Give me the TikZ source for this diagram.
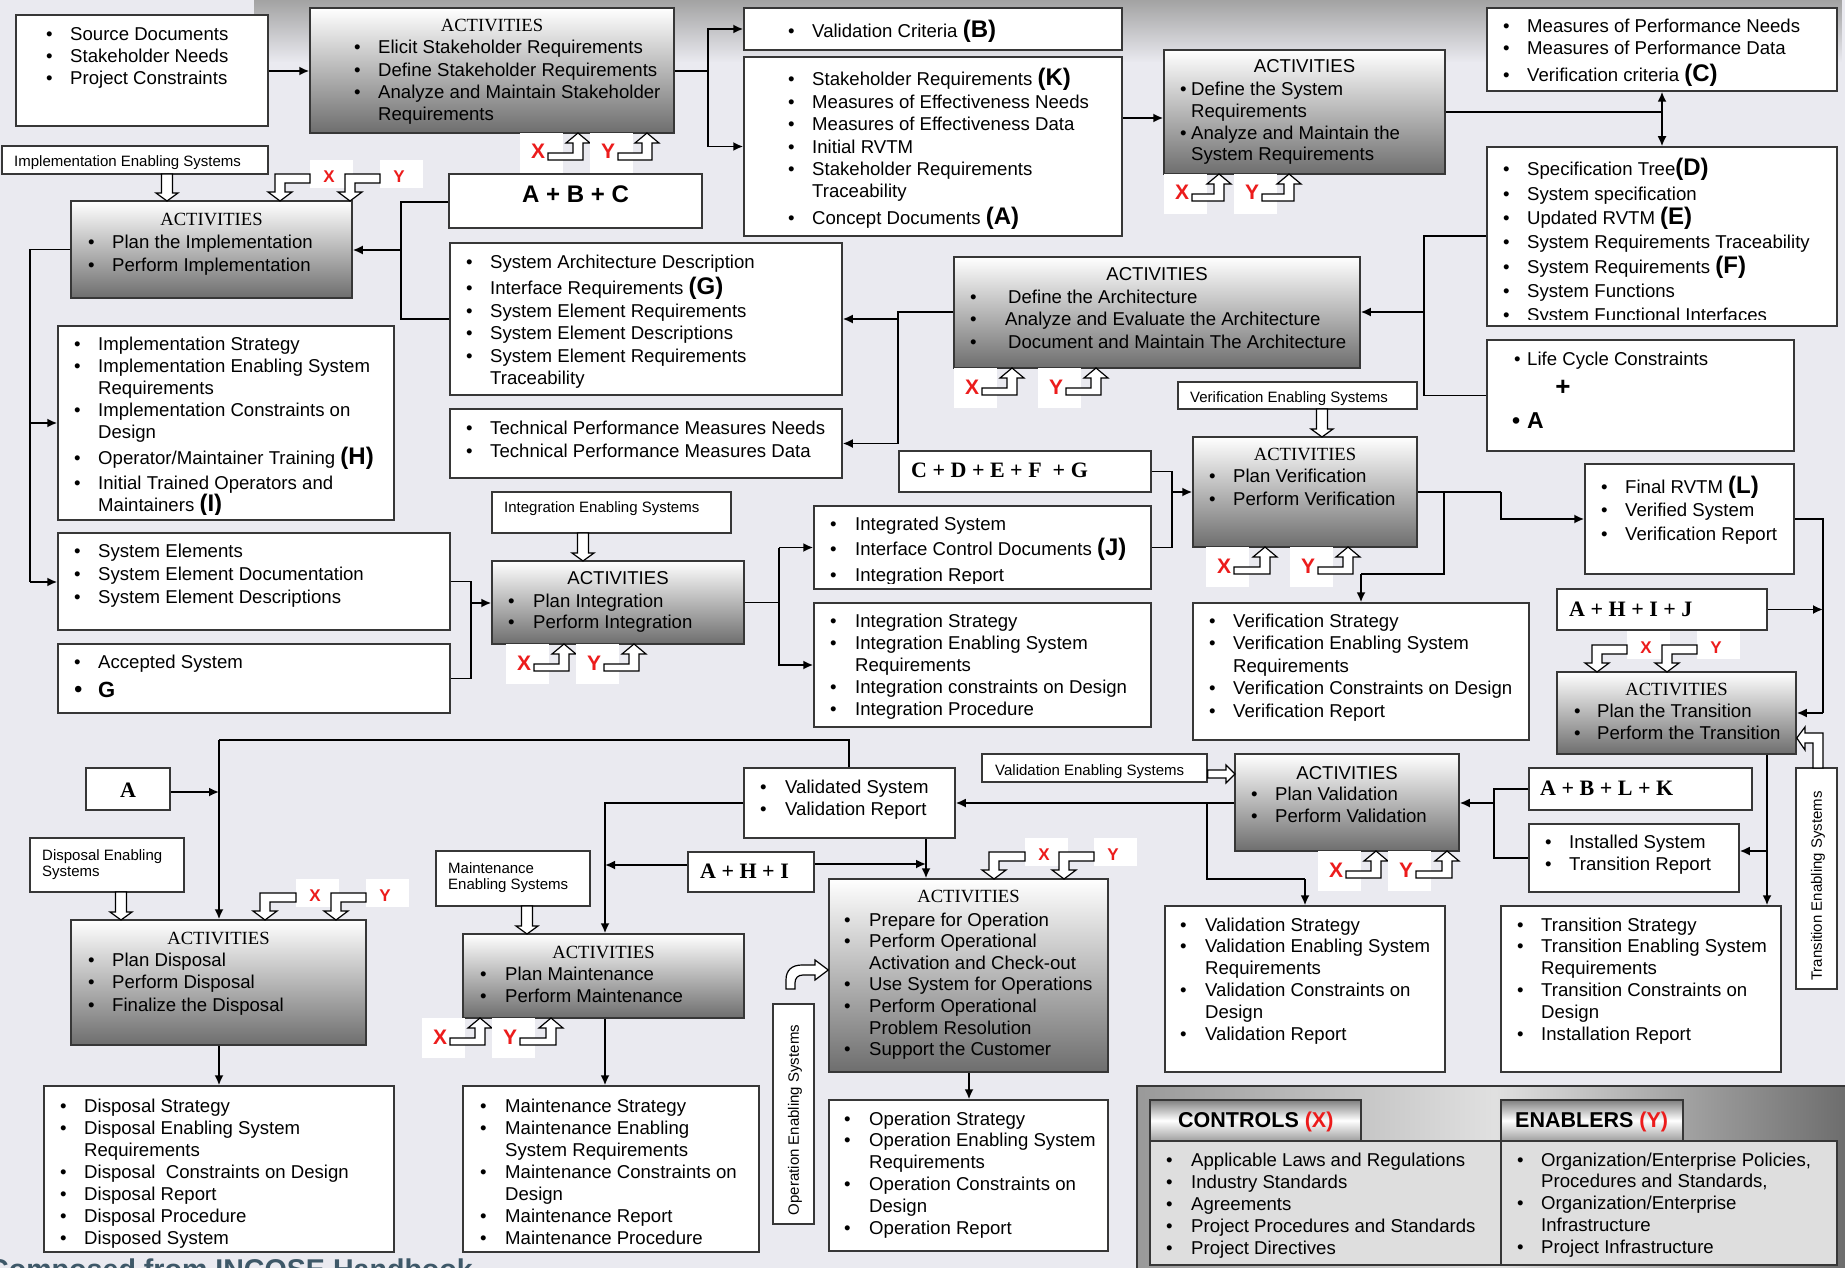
\documentclass[tikz,border=0pt]{standalone}
\usepackage{fontspec}
\setmainfont{Liberation Sans}
\newfontfamily\tms{Liberation Serif}
\usetikzlibrary{arrows.meta,fit,fadings}

\definecolor{bgc}{RGB}{234,234,240}
\definecolor{bord}{RGB}{55,55,55}
\definecolor{xred}{RGB}{236,28,28}
\definecolor{capc}{RGB}{62,88,104}

\tikzfading[name=fadedown, top color=transparent!0, bottom color=transparent!100]

% bulleted lists: \lst{width}{text indent}{line pitch}{items}
\newlength\txtx
\newcommand\itm[1]{\par\noindent\hangindent=\txtx\hangafter=1\hbox to\txtx{\textbullet\hss}#1}
\newcommand\lst[4]{\vtop{\hsize=#1pt\parskip=0pt\parindent=0pt\rightskip=0pt plus 1fil\txtx=#2pt\fontsize{18.6}{#3}\selectfont#4}}
\newcommand\bigb[1]{{\fontsize{24}{24}\selectfont\bfseries#1}}
\newcommand\fsm{\fontsize{15}{16.5}\selectfont}
\newcommand\fbody{\fontsize{18.6}{22}\selectfont}
\newcommand\fplus{\tms\bfseries\fontsize{22}{24}\selectfont}

\tikzset{
  wbox/.style={draw=bord, line width=1.5pt, fill=white, inner sep=0pt},
  abox/.style={draw=bord, line width=1.5pt, top color=white, bottom color=black!57, inner sep=0pt},
  conn/.style={line width=1.8pt, draw=black},
  arr/.style={conn, -{Latex[length=10pt,width=9pt]}},
  hol/.style={draw=black, line width=1.2pt, fill=white, line join=miter},
  tx/.style={anchor=base west, inner sep=0pt},
  ttl/.style={anchor=base, inner sep=0pt, font=\fbody},
  ttlr/.style={anchor=base, inner sep=0pt, font=\tms\fbody},
  upl/.style={anchor=base west, inner sep=0pt, text=xred, font=\bfseries\fontsize{21}{21}\selectfont},
  dnl/.style={anchor=center, inner sep=0pt, text=xred, font=\bfseries\fontsize{17}{17}\selectfont},
}

% control / enabler tag below a box: letter, tag left, box bottom, arrow tip x
\newcommand\upt[4]{%
  \fill[white] (#2,#3) rectangle ({#2+43},{#3+40});
  \draw[hol] ({#2+28},{#3+20}) -- ({#4-5},{#3+20}) -- ({#4-5},{#3+10}) -- ({#4-12},{#3+10}) -- (#4,#3)
    -- ({#4+12},{#3+10}) -- ({#4+5},{#3+10}) -- ({#4+5},{#3+27}) -- ({#2+28},{#3+27}) -- cycle;
  \node[upl] (u#1#2) at ({#2+11},{#3+26}) {#1};}
% control / enabler tag above a box: letter, tag left, box top, arrow tip x
\newcommand\dnt[4]{%
  \fill[white] (#2,{#3-41}) rectangle ({#2+43},{#3-13});
  \draw[hol] (#2,{#3-27}) -- ({#4-5},{#3-27}) -- ({#4-5},{#3-9}) -- ({#4-12},{#3-9}) -- (#4,#3)
    -- ({#4+12},{#3-9}) -- ({#4+5},{#3-9}) -- ({#4+5},{#3-18}) -- (#2,{#3-18}) -- cycle;
  \node[dnl] (d#1#2) at ({#2+19},{#3-24}) {#1};}
% hollow downward arrow: x, top, tip
\newcommand\hdn[3]{\draw[hol] ({#1-5.5},#2) -- ({#1-5.5},{#3-8}) -- ({#1-11},{#3-8}) -- (#1,#3)
    -- ({#1+11},{#3-8}) -- ({#1+5.5},{#3-8}) -- ({#1+5.5},#2) -- cycle;}

\begin{document}
\begin{tikzpicture}[x=1pt,y=-1pt]
\useasboundingbox (0,0) rectangle (1845,1268);
\fill[bgc] (0,0) rectangle (1845,1268);
\fill[black!36, path fading=fadedown] (255,0) rectangle (1845,62);

% ---------------- stakeholder requirements ----------------
\node[wbox, fit={(16,15)(268,126)}] (src) {};
\node[tx] (src-t) at (46,41) {\lst{222}{24}{22}{\itm{Source Documents}\itm{Stakeholder Needs}\itm{Project Constraints}}};

\node[abox, fit={(310,8)(674,133)}] (act1) {};
\node[ttlr] (act1-h) at (492,32) {ACTIVITIES};
\node[tx] (act1-t) at (354,54) {\lst{320}{24}{22.2}{\itm{Elicit Stakeholder Requirements}\itm{Define Stakeholder Requirements}\itm{Analyze and Maintain Stakeholder\newline Requirements}}};

\node[wbox, fit={(744,8)(1122,50)}] (valc) {};
\node[tx] (valc-t) at (788,38) {\lst{334}{24}{22}{\itm{Validation Criteria \bigb{(B)}}}};

\node[wbox, fit={(744,57)(1122,236)}] (skreq) {};
\node[tx] (skreq-t) at (788,86) {\lst{334}{24}{22.4}{\itm{Stakeholder Requirements \bigb{(K)}}\itm{Measures of Effectiveness Needs}\itm{Measures of Effectiveness Data}\itm{Initial RVTM}\itm{Stakeholder Requirements\newline Traceability}\par\vskip4.5pt\itm{Concept Documents \bigb{(A)}}}};

% ---------------- system requirements ----------------
\node[abox, fit={(1164,50)(1445,174)}] (sysact) {};
\node[ttl] (sysact-h) at (1304.5,73) {ACTIVITIES};
\node[tx] (sysact-t) at (1180,96) {\lst{265}{11}{21.6}{\itm{Define the System\newline Requirements}\itm{Analyze and Maintain the\newline System Requirements}}};

\node[wbox, fit={(1487,8)(1837,91)}] (mop) {};
\node[tx] (mop-t) at (1503,33) {\lst{330}{24}{22}{\itm{Measures of Performance Needs}\itm{Measures of Performance Data}\par\vskip5pt\itm{Verification criteria \bigb{(C)}}}};

\node[wbox, fit={(1487,147)(1837,326)}] (spec) {};
\begin{scope}
\clip (1487,147) rectangle (1837,319);
\node[tx] (spec-t) at (1503,176) {\lst{330}{24}{24.3}{\itm{Specification Tree\bigb{(D)}}\itm{System specification}\itm{Updated RVTM \bigb{(E)}}\itm{System Requirements Traceability}\itm{System Requirements \bigb{(F)}}\itm{System Functions}\itm{System Functional Interfaces}}};
\end{scope}

\node[wbox, fit={(1487,340)(1794,451)}] (lcc) {};
\node[tx] (lcc-t) at (1514,365) {\fbody\hbox to 13pt{\textbullet\hss}Life Cycle Constraints};
\node[anchor=center, inner sep=0pt, font=\bfseries\fontsize{26}{26}\selectfont] (lcc-p) at (1563,388) {+};
\node[tx] (lcc-a) at (1512,428) {\fontsize{23}{24}\selectfont\bfseries\hbox to 15pt{\textbullet\hss}A};

% ---------------- implementation ----------------
\node[wbox, fit={(449,174)(702,228)}] (abc) {};
\node[anchor=base, inner sep=0pt, font=\bfseries\fontsize{24}{24}\selectfont] (abc-t) at (575.5,203) {A + B + C};

\node[wbox, fit={(2,146)(268,174)}] (implen) {};
\node[tx, font=\fsm] (implen-t) at (14,167) {Implementation Enabling Systems};

\node[abox, fit={(71,201)(352,298)}] (implact) {};
\node[ttlr] (implact-h) at (211.5,226) {ACTIVITIES};
\node[tx] (implact-t) at (88,249) {\lst{260}{24}{22}{\itm{Plan the Implementation}\itm{Perform Implementation}}};

\node[wbox, fit={(58,326)(394,520)}] (implstr) {};
\begin{scope}
\clip (58,326) rectangle (394,514);
\node[tx] (implstr-t) at (74,350) {\lst{318}{24}{22}{\itm{Implementation Strategy}\itm{Implementation Enabling System\newline Requirements}\itm{Implementation Constraints on\newline Design}\par\vskip4pt\itm{Operator/Maintainer Training \bigb{(H)}}\par\vskip3pt\itm{Initial Trained Operators and\newline Maintainers \bigb{(I)}}}};
\end{scope}

\node[wbox, fit={(58,533)(450,630)}] (syselem) {};
\node[tx] (syselem-t) at (74,557) {\lst{370}{24}{23}{\itm{System Elements}\itm{System Element Documentation}\itm{System Element Descriptions}}};

\node[wbox, fit={(58,644)(450,713)}] (accepted) {};
\node[tx] (accepted-t) at (74,668) {\lst{370}{24}{29}{\itm{Accepted System}\par\noindent\hbox to 24pt{\fontsize{24}{24}\selectfont\textbullet\hss}{\fontsize{22}{22}\selectfont\bfseries G}}};

% ---------------- architecture ----------------
\node[wbox, fit={(450,243)(842,395)}] (sysarch) {};
\node[tx] (sysarch-t) at (466,269) {\lst{370}{24}{22.5}{\itm{System Architecture Description}\par\vskip3.5pt\itm{Interface Requirements \bigb{(G)}}\itm{System Element Requirements}\itm{System Element Descriptions}\itm{System Element Requirements\newline Traceability}}};

\node[wbox, fit={(450,409)(842,478)}] (tpm) {};
\node[tx] (tpm-t) at (466,434) {\lst{370}{24}{23}{\itm{Technical Performance Measures Needs}\itm{Technical Performance Measures Data}}};

\node[abox, fit={(954,257)(1360,368)}] (archact) {};
\node[ttl] (archact-h) at (1157,280) {ACTIVITIES};
\node[tx] (archact-t) at (970,303) {\lst{385}{38}{22.5}{\itm{Define the Architecture}\itm{\hspace{-3pt}Analyze and Evaluate the Architecture}\itm{Document and Maintain The Architecture}}};

% ---------------- integration ----------------
\node[wbox, fit={(492,492)(731,533)}] (intEn) {};
\node[tx, font=\fsm] (intEn-t) at (504,512) {Integration Enabling Systems};

\node[abox, fit={(492,561)(744,644)}] (intAct) {};
\node[ttl] (intAct-h) at (618,584) {ACTIVITIES};
\node[tx] (intAct-t) at (508,607) {\lst{230}{25}{21.5}{\itm{Plan Integration}\itm{Perform Integration}}};

\node[wbox, fit={(814,506)(1151,589)}] (integd) {};
\begin{scope}
\clip (814,506) rectangle (1151,583);
\node[tx] (integd-t) at (830,530) {\lst{320}{25}{25.5}{\itm{Integrated System}\itm{Interface Control Documents \bigb{(J)}}\itm{Integration Report}}};
\end{scope}

\node[wbox, fit={(814,603)(1151,727)}] (integstr) {};
\node[tx] (integstr-t) at (830,627) {\lst{320}{25}{22.2}{\itm{Integration Strategy}\itm{Integration Enabling System\newline Requirements}\itm{Integration constraints on Design}\itm{Integration Procedure}}};

% ---------------- verification ----------------
\node[wbox, fit={(899,451)(1151,492)}] (cdefg) {};
\node[tx, font=\fplus] (cdefg-t) at (911,477) {C + D + E + F \ + G};

\node[wbox, fit={(1178,382)(1417,409)}] (verEn) {};
\node[tx, font=\fsm] (verEn-t) at (1190,402) {Verification Enabling Systems};

\node[abox, fit={(1193,437)(1417,547)}] (verAct) {};
\node[ttlr] (verAct-h) at (1305,460) {ACTIVITIES};
\node[tx] (verAct-t) at (1209,482) {\lst{205}{24}{23}{\itm{Plan Verification}\itm{Perform Verification}}};

\node[wbox, fit={(1193,603)(1529,740)}] (verstr) {};
\node[tx] (verstr-t) at (1209,627) {\lst{318}{24}{22.5}{\itm{Verification Strategy}\itm{Verification Enabling System\newline Requirements}\itm{Verification Constraints on Design}\itm{Verification Report}}};

\node[wbox, fit={(1585,464)(1794,574)}] (final) {};
\node[tx] (final-t) at (1601,493) {\lst{190}{24}{23.5}{\itm{Final RVTM \bigb{(L)}}\itm{Verified System}\itm{Verification Report}}};

% ---------------- transition ----------------
\node[wbox, fit={(1557,589)(1767,630)}] (ahij) {};
\node[tx, font=\fplus] (ahij-t) at (1569,616) {A + H + I + J};

\node[abox, fit={(1557,672)(1796,754)}] (transAct) {};
\node[ttlr] (transAct-h) at (1676.5,695) {ACTIVITIES};
\node[tx] (transAct-t) at (1574,717) {\lst{220}{23}{22}{\itm{Plan the Transition}\itm{Perform the Transition}}};

\node[wbox, fit={(1796,768)(1837,989)}] (transEn) {};
\node[rotate=90, inner sep=0pt, font=\fsm] (transEn-t) at (1818,886) {Transition Enabling Systems};

\node[wbox, fit={(1529,768)(1752,810)}] (abLK) {};
\node[tx, font=\fplus] (abLK-t) at (1540,795) {A + B + L + K};

\node[wbox, fit={(1529,824)(1739,892)}] (installed) {};
\node[tx] (installed-t) at (1545,848) {\lst{190}{24}{22}{\itm{Installed System}\itm{Transition Report}}};

\node[wbox, fit={(1501,906)(1781,1072)}] (transStr) {};
\node[tx] (transStr-t) at (1517,931) {\lst{262}{24}{21.8}{\itm{Transition Strategy}\itm{Transition Enabling System\newline Requirements}\itm{Transition Constraints on\newline Design}\itm{Installation Report}}};

% ---------------- validation ----------------
\node[wbox, fit={(982,754)(1207,782)}] (valEn) {};
\node[tx, font=\fsm] (valEn-t) at (995,775) {Validation Enabling Systems};

\node[abox, fit={(1235,754)(1459,851)}] (valAct) {};
\node[ttl] (valAct-h) at (1347,779) {ACTIVITIES};
\node[tx] (valAct-t) at (1251,800) {\lst{205}{24}{22}{\itm{Plan Validation}\itm{Perform Validation}}};

\node[wbox, fit={(1165,906)(1445,1072)}] (valStr) {};
\node[tx] (valStr-t) at (1180,931) {\lst{262}{25}{21.8}{\itm{Validation Strategy}\itm{Validation Enabling System\newline Requirements}\itm{Validation Constraints on\newline Design}\itm{Validation Report}}};

\node[wbox, fit={(744,768)(955,838)}] (validated) {};
\node[tx] (validated-t) at (760,793) {\lst{190}{25}{22}{\itm{Validated System}\itm{Validation Report}}};

% ---------------- operation ----------------
\node[wbox, fit={(688,852)(814,892)}] (ahi) {};
\node[tx, font=\fplus] (ahi-t) at (700,878) {A + H + I};

\node[abox, fit={(829,879)(1108,1072)}] (opAct) {};
\node[ttlr] (opAct-h) at (968.5,902) {ACTIVITIES};
\node[tx] (opAct-t) at (844,926) {\lst{262}{25}{21.6}{\itm{Prepare for Operation}\itm{Perform Operational\newline Activation and Check-out}\itm{Use System for Operations}\itm{Perform Operational\newline Problem Resolution}\itm{Support the Customer}}};

\node[wbox, fit={(773,1004)(814,1224)}] (opEn) {};
\node[rotate=90, inner sep=0pt, font=\fsm] (opEn-t) at (795,1120) {Operation Enabling Systems};

\node[wbox, fit={(829,1100)(1108,1251)}] (opStr) {};
\node[tx] (opStr-t) at (844,1125) {\lst{262}{25}{21.8}{\itm{Operation Strategy}\itm{Operation Enabling System\newline Requirements}\itm{Operation Constraints on\newline Design}\itm{Operation Report}}};

% ---------------- disposal ----------------
\node[wbox, fit={(86,768)(170,810)}] (aBox) {};
\node[anchor=base, inner sep=0pt, font=\fplus] (aBox-t) at (128,797) {A};

\node[wbox, fit={(30,838)(184,892)}] (dispEn) {};
\node[tx] (dispEn-t) at (42,860) {\vtop{\fsm\hbox{Disposal Enabling}\hbox{Systems}}};

\node[abox, fit={(71,920)(366,1045)}] (dispAct) {};
\node[ttlr] (dispAct-h) at (218.5,944) {ACTIVITIES};
\node[tx] (dispAct-t) at (88,966) {\lst{270}{24}{22.5}{\itm{Plan Disposal}\itm{Perform Disposal}\itm{Finalize the Disposal}}};

\node[wbox, fit={(44,1086)(394,1252)}] (dispStr) {};
\node[tx] (dispStr-t) at (60,1112) {\lst{330}{24}{22}{\itm{Disposal Strategy}\itm{Disposal Enabling System\newline Requirements}\itm{Disposal\ \ Constraints on Design}\itm{Disposal Report}\itm{Disposal Procedure}\itm{Disposed System}}};

% ---------------- maintenance ----------------
\node[wbox, fit={(436,851)(590,906)}] (maintEn) {};
\node[tx] (maintEn-t) at (448,873) {\vtop{\fsm\hbox{Maintenance}\hbox{Enabling Systems}}};

\node[abox, fit={(463,934)(744,1018)}] (maintAct) {};
\node[ttlr] (maintAct-h) at (603.5,958) {ACTIVITIES};
\node[tx] (maintAct-t) at (480,980) {\lst{260}{25}{22}{\itm{Plan Maintenance}\itm{Perform Maintenance}}};

\node[wbox, fit={(463,1086)(759,1252)}] (maintStr) {};
\node[tx] (maintStr-t) at (480,1112) {\lst{275}{25}{22}{\itm{Maintenance Strategy}\itm{Maintenance Enabling\newline System Requirements}\itm{Maintenance Constraints on\newline Design}\itm{Maintenance Report}\itm{Maintenance Procedure}}};

% ---------------- controls and enablers legend ----------------
\node[fit={(1137,1086)(1852,1275)}, inner sep=0pt, draw=bord, line width=1.5pt, left color=black!40, right color=black!58, middle color=black!12] (panel) {};
\node[fit={(1150,1100)(1361,1141)}, inner sep=0pt, draw=bord, line width=1.5pt, top color=black!50, bottom color=black!38, middle color=white] (ctrlTab) {};
\node[fit={(1501,1100)(1683,1141)}, inner sep=0pt, draw=bord, line width=1.5pt, top color=black!50, bottom color=black!38, middle color=white] (enTab) {};
\node[fit={(1150,1141)(1501,1265)}, inner sep=0pt, draw=bord, line width=1.5pt, fill=black!13] (ctrlBody) {};
\node[fit={(1501,1141)(1837,1265)}, inner sep=0pt, draw=bord, line width=1.5pt, fill=black!13] (enBody) {};
\node[tx, font=\bfseries\fontsize{21.5}{22}\selectfont] (ctrl-h) at (1178,1127) {CONTROLS \textcolor{xred}{(X)}};
\node[tx, font=\bfseries\fontsize{21.5}{22}\selectfont] (en-h) at (1515,1127) {ENABLERS \textcolor{xred}{(Y)}};
\node[tx] (ctrl-t) at (1166,1166) {\lst{330}{25}{22.2}{\itm{Applicable Laws and Regulations}\itm{Industry Standards}\itm{Agreements}\itm{Project Procedures and Standards}\itm{Project Directives}}};
\node[tx] (en-t) at (1517,1166) {\lst{320}{24}{21.8}{\itm{Organization/Enterprise Policies,\newline Procedures and Standards,}\itm{Organization/Enterprise\newline Infrastructure}\itm{Project Infrastructure}}};

\node[tx, text=capc, font=\bfseries\fontsize{28.6}{30}\selectfont] (cap) at (-12,1279) {Composed from INCOSE Handbook};

% ---------------- connectors ----------------
\draw[arr] (src.east |- 0,71) -- (act1.west |- 0,71);
\draw[conn] (act1.east |- 0,71) -- (708,71) coordinate (j1);
\draw[arr] (j1) |- (valc.west);
\draw[arr] (j1) |- (skreq.west);
\draw[arr] (skreq.east |- 0,118) -- (sysact.west |- 0,118);
\coordinate (j2) at (sysact.east -| mop.south);
\draw[conn] (sysact.east) -- (j2);
\draw[arr] (j2) -- (mop.south);
\draw[arr] (j2) -- (spec.north);

\coordinate (j3) at (1424,312);
\draw[conn] (spec.west |- 0,236) -| (lcc.west -| j3) -- (lcc.west);
\draw[arr] (j3) -- (archact.east |- j3);

\coordinate (j4) at (898,312);
\draw[conn] (archact.west |- j4) -- (j4) -- (j4 |- tpm.east);
\draw[arr] (898,319) -- (sysarch.east |- 0,319);
\draw[arr] (j4 |- tpm.east) -- (tpm.east);

\coordinate (j5) at (401,250);
\draw[conn] (abc.west |- 0,202) -| (401,319) -- (sysarch.west |- 0,319);
\draw[arr] (j5) -- (implact.east |- j5);

\coordinate (j6) at (30,582);
\draw[conn] (implact.west) -| (j6);
\draw[arr] (30,423) -- (implstr.west);
\draw[arr] (j6) -- (syselem.west |- j6);

\coordinate (j7) at (471,603);
\draw[conn] (syselem.east) -| (471,678.5) -- (accepted.east);
\draw[arr] (j7) -- (intAct.west |- j7);

\coordinate (j8) at (779,602.5);
\draw[conn] (intAct.east) -- (j8);
\draw[arr] (779,547.5) |- (integd.west);
\draw[arr] (779,547.5) |- (integstr.west);

\coordinate (j9) at (1172,492);
\draw[conn] (cdefg.east) -| (1172,547.5) -- (integd.east);
\draw[arr] (j9) -- (verAct.west);

\draw[conn] (verAct.east) -- (1501,492);
\draw[arr] (1501,492) |- (final.west);
\draw[conn] (1444,492) |- (1361,574);
\draw[arr] (1361,574) -- (verstr.north);

\coordinate (j10) at (1823,713);
\draw[conn] (final.east) -| (j10);
\draw[arr] (j10) -- (transAct.east);
\draw[arr] (ahij.east) -- (ahij.east -| j10);

\draw[arr] (transAct.south -| 1767,0) -- (transStr.north -| 1767,0);
\draw[arr] (1767,851) -- (installed.east |- 0,851);
\draw[conn] (abLK.west) -| (1494,858) -- (installed.west);
\draw[arr] (1494,803) -- (valAct.east |- 0,803);

\draw[arr] (valAct.west |- 0,803) -- (validated.east |- 0,803);
\draw[conn] (1207,803) |- (1305,879);
\draw[arr] (1305,879) -- (valStr.north);

\coordinate (j11) at (219,740);
\draw[conn] (validated.north -| 849,0) |- (j11);
\draw[arr] (j11) -- (dispAct.north -| j11);
\draw[arr] (aBox.east |- 0,792) -- (219,792);
\draw[arr] (validated.west) -| (maintAct.north -| 605,0);
\draw[arr] (ahi.west |- 0,865) -- (605,865);
\draw[arr] (validated.south -| 926,0) -- (opAct.north -| 926,0);
\draw[arr] (ahi.east |- 0,864) -- (926,864);
\draw[arr] (dispAct.south -| 219,0) -- (dispStr.north -| 219,0);
\draw[arr] (maintAct.south -| 605,0) -- (maintStr.north -| 605,0);
\draw[arr] (opAct.south -| 969,0) -- (opStr.north -| 969,0);

% ---------------- enabling system inputs ----------------
\hdn{167}{174}{201}
\hdn{583}{533}{561}
\hdn{1322}{409}{437}
\hdn{121}{892}{920}
\hdn{527}{906}{934}
\draw[hol] (valEn.east |- 0,770) -- (1226,770) -- (1226,765) -- (1235,774) -- (1226,783) -- (1226,778) -- (valEn.east |- 0,778) -- cycle;
\draw[hol] (1813,768) -- (1813,743) -- (1805,743) -- (1805,750) -- (transAct.east |- 0,738) -- (1805,727) -- (1805,733) -- (1823,733) -- (1823,768) -- cycle;
\draw[hol] (786,989) -- (786,980) .. controls (786,970) and (792,965) .. (802,965) -- (815,965) -- (815,960)
  -- (opAct.west |- 0,970) -- (815,980) -- (815,975) -- (803,975) .. controls (798,975) and (795,978) .. (795,983) -- (795,989) -- cycle;

% ---------------- controls (X) and enablers (Y) ----------------
\upt{X}{520}{133}{578}   \upt{Y}{590}{133}{647}
\upt{X}{1164}{174}{1219} \upt{Y}{1234}{174}{1289}
\upt{X}{954}{368}{1012}  \upt{Y}{1038}{368}{1096}
\upt{X}{506}{644}{564}   \upt{Y}{576}{644}{634}
\upt{X}{1206}{547}{1265} \upt{Y}{1290}{547}{1348}
\upt{X}{1318}{851}{1376} \upt{Y}{1388}{851}{1447}
\upt{X}{422}{1018}{480}  \upt{Y}{492}{1018}{551}
\dnt{X}{310}{201}{280}   \dnt{Y}{380}{201}{350}
\dnt{X}{296}{920}{265}   \dnt{Y}{366}{920}{336}
\dnt{X}{1025}{879}{994}  \dnt{Y}{1094}{879}{1064}
\dnt{X}{1627}{672}{1597} \dnt{Y}{1697}{672}{1667}
\end{tikzpicture}
\end{document}
